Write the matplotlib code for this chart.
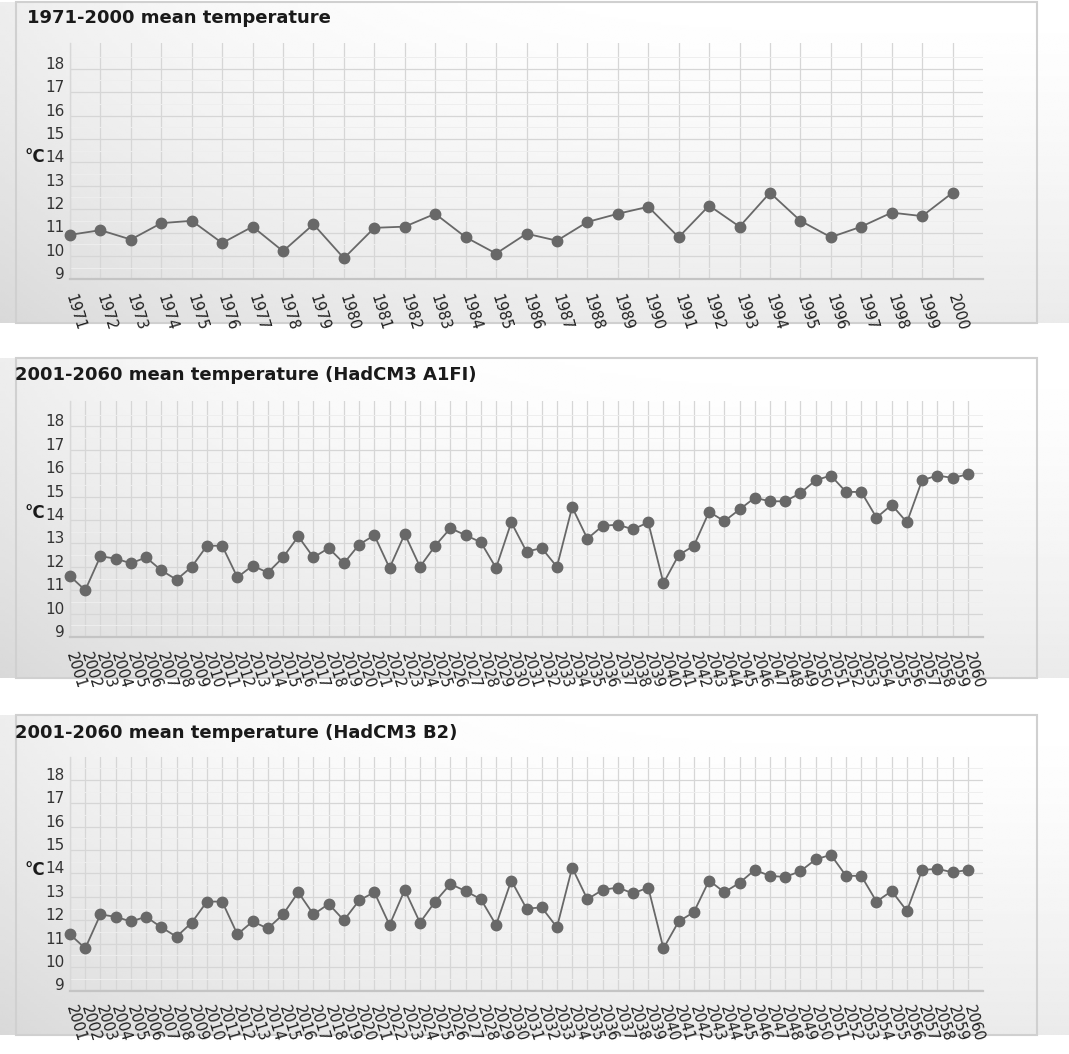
import numpy as np
import matplotlib
matplotlib.use('Agg')
import matplotlib.pyplot as plt
from matplotlib.patches import Rectangle
from matplotlib.transforms import ScaledTranslation

# values
years_hist = list(range(1971, 2001))
temp_hist = [10.9, 11.1, 10.7, 11.4, 11.5, 10.55, 11.25, 10.2, 11.35, 9.9,
             11.2, 11.25, 11.8, 10.8, 10.1, 10.95, 10.65, 11.45, 11.8, 12.1,
             10.8, 12.15, 11.25, 12.7, 11.5, 10.8, 11.25, 11.85, 11.7, 12.7]

years_future = list(range(2001, 2061))
temp_a1fi = [11.6, 11.0, 12.45, 12.35, 12.15, 12.4, 11.85, 11.45, 12.0, 12.9,
             12.9, 11.55, 12.05, 11.75, 12.4, 13.3, 12.4, 12.8, 12.15, 12.95,
             13.35, 11.95, 13.4, 12.0, 12.9, 13.65, 13.35, 13.05, 11.95, 13.9,
             12.65, 12.8, 12.0, 14.55, 13.2, 13.75, 13.8, 13.6, 13.9, 11.3,
             12.5, 12.9, 14.35, 13.95, 14.45, 14.95, 14.8, 14.8, 15.15, 15.7,
             15.9, 15.2, 15.2, 14.1, 14.65, 13.9, 15.7, 15.9, 15.8, 15.95]
temp_b2 = [11.4, 10.8, 12.25, 12.15, 11.95, 12.15, 11.7, 11.3, 11.9, 12.8,
           12.8, 11.4, 11.95, 11.65, 12.25, 13.2, 12.25, 12.7, 12.0, 12.85,
           13.2, 11.8, 13.3, 11.9, 12.8, 13.55, 13.25, 12.9, 11.8, 13.7,
           12.5, 12.55, 11.7, 14.25, 12.9, 13.3, 13.4, 13.15, 13.4, 10.8,
           11.95, 12.35, 13.7, 13.2, 13.6, 14.15, 13.9, 13.85, 14.1, 14.6,
           14.8, 13.9, 13.9, 12.8, 13.25, 12.4, 14.15, 14.2, 14.05, 14.15]

y_ticks = list(range(9, 19))

titles = ['1971-2000 mean temperature',
          '2001-2060 mean temperature (HadCM3 A1FI)',
          '2001-2060 mean temperature (HadCM3 B2)']

W, H = 1069, 1054
fig = plt.figure(figsize=(W / 100, H / 100), dpi=100)
fig.patch.set_facecolor('white')

# background layer in pixel coordinates
bg = fig.add_axes([0, 0, 1, 1])
bg.set_xlim(0, W)
bg.set_ylim(H, 0)
bg.axis('off')

# (frame top, frame bottom, plot top, plot bottom, title x, title y, unit y)
panels = [
    (2, 323, 43.3, 279.3, 27, 18, 157, years_hist, temp_hist),
    (358, 678, 401, 637, 15, 375, 513, years_future, temp_a1fi),
    (715, 1035, 757, 990.5, 15, 733, 870, years_future, temp_b2),
]

gx = np.linspace(0, 1, 300)
gy = np.linspace(0, 1, 120)

for i, (f0, f1, p0, p1, tx, ty, uy, yrs, vals) in enumerate(panels):
    # soft gradient behind each panel
    img = 1 - 0.08 * gy[:, None] ** 1.3 - 0.07 * (1 - gx[None, :]) ** 4
    bg.imshow(img, extent=(0, W, f1, f0), cmap='gray', vmin=0, vmax=1,
              aspect='auto', interpolation='bilinear', zorder=0)
    bg.add_patch(Rectangle((16, f0), 1021, f1 - f0, fill=False,
                           ec='#d0d0d0', lw=1.5, zorder=1))

    ax = fig.add_axes([70 / W, 1 - p1 / H, 913 / W, (p1 - p0) / H])
    ax.set_facecolor('none')
    n = len(yrs)
    x = np.arange(n)
    ax.plot(x, vals, color='#686868', lw=1.3, marker='o', ms=7.5,
            mfc='#686868', mec='#686868', zorder=3, clip_on=False)

    ax.set_xlim(0, n)
    ax.set_ylim(9, 9 + (p1 - p0) / 23.4)
    ax.set_yticks(y_ticks)
    ax.set_yticklabels([str(t) for t in y_ticks], fontsize=11, color='#333333')
    for lbl in ax.get_yticklabels():
        lbl.set_verticalalignment('baseline')

    ax.set_xticks(x)
    ax.set_xticklabels([str(y) for y in yrs], rotation=-73, ha='left',
                       va='center', rotation_mode='anchor', fontsize=10.5,
                       color='#1e1e1e')
    offset = ScaledTranslation(4 / 100, 0, fig.dpi_scale_trans)
    for lbl in ax.get_xticklabels():
        lbl.set_transform(lbl.get_transform() + offset)

    ax.set_yticks(np.arange(9.5, 19, 1), minor=True)
    ax.tick_params(axis='both', which='both', length=0)
    ax.tick_params(axis='y', pad=4)
    ax.tick_params(axis='x', pad=11)

    ax.grid(True, which='major', color='#d6d6d6', lw=0.9, zorder=1)
    ax.grid(True, which='minor', axis='y', color='#eeeeee', lw=0.7, zorder=1)
    ax.set_axisbelow(True)

    for s in ['top', 'right']:
        ax.spines[s].set_visible(False)
    ax.spines['bottom'].set_color('#c4c4c4')
    ax.spines['bottom'].set_linewidth(1.6)
    ax.spines['left'].set_color('#d8d8d8')
    ax.spines['left'].set_linewidth(1.0)

    fig.text(tx / W, 1 - ty / H, titles[i], fontsize=13, fontweight='bold',
             ha='left', va='center', color='#1a1a1a')
    fig.text(24 / W, 1 - uy / H, '°C', fontsize=12, fontweight='bold',
             ha='left', va='center', color='#1a1a1a')

plt.savefig('out.png', dpi=100)
